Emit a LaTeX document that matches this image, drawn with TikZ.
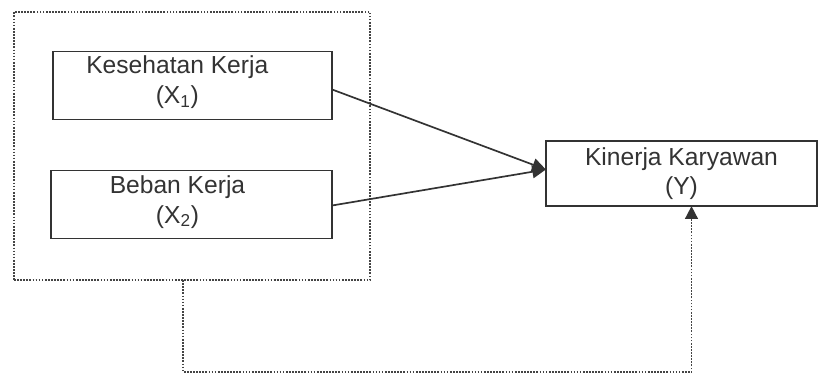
\documentclass[tikz,border=0pt]{standalone}
\usepackage{fontspec}
\setmainfont{Liberation Sans}
\usepackage{tikz}
\usetikzlibrary{positioning,calc,arrows.meta}
\definecolor{BoxGray}{HTML}{333333}
\definecolor{DotGray}{HTML}{444444}

\begin{document}
\begin{tikzpicture}[
    x=0.025cm, y=-0.025cm,
    every node/.style={
        font=\fontsize{17.5}{21}\selectfont,
        text=BoxGray,
        inner sep=0pt,
        outer sep=0pt
    },
    varbox/.style={
        draw=BoxGray,
        line width=1.3pt,
        minimum width=6.98cm,
        minimum height=1.7cm
    },
    txt/.style={
        align=center,
        text=BoxGray
    },
    grp/.style={
        draw=DotGray,
        densely dotted,
        line width=1.2pt,
        minimum width=8.9cm,
        minimum height=6.7cm
    },
    effect/.style={
        draw=BoxGray,
        line width=1.2pt,
        -{Triangle[length=3.4mm,width=3.2mm]}
    },
    feedback/.style={
        draw=DotGray,
        densely dotted,
        line width=1.2pt,
        -{Triangle[length=3.2mm,width=3.2mm,fill=BoxGray,color=BoxGray]}
    }
]
\useasboundingbox (0,0) rectangle (820,374);

\node[grp] (group) at (192,146) {};

\node[varbox, label={[txt,xshift=-0.38cm,yshift=0.08cm]center:Kesehatan Kerja\\(X\textsubscript{1})}] (kesehatan) at (192.5,85.5) {};
\node[varbox, minimum width=7.03cm, label={[txt,xshift=-0.35cm,yshift=0.06cm]center:Beban Kerja\\(X\textsubscript{2})}] (beban) at (191.5,204.5) {};

\node[varbox, minimum width=6.78cm, minimum height=1.63cm, txt] (kinerja) at (681.5,173.5) {Kinerja Karyawan\\(Y)};

\coordinate (meet) at ($(kinerja.west)+(0,-4)$);

\draw[effect] ($(kesehatan.east)+(0,4)$) -- (meet);
\draw[effect] ($(beban.east)+(0,1)$) -- (meet);

\draw[feedback] ($(group.south)+(-9,0)$) -- ++(0,92) -| ($(kinerja.south)+(10,0)$);

\end{tikzpicture}
\end{document}
